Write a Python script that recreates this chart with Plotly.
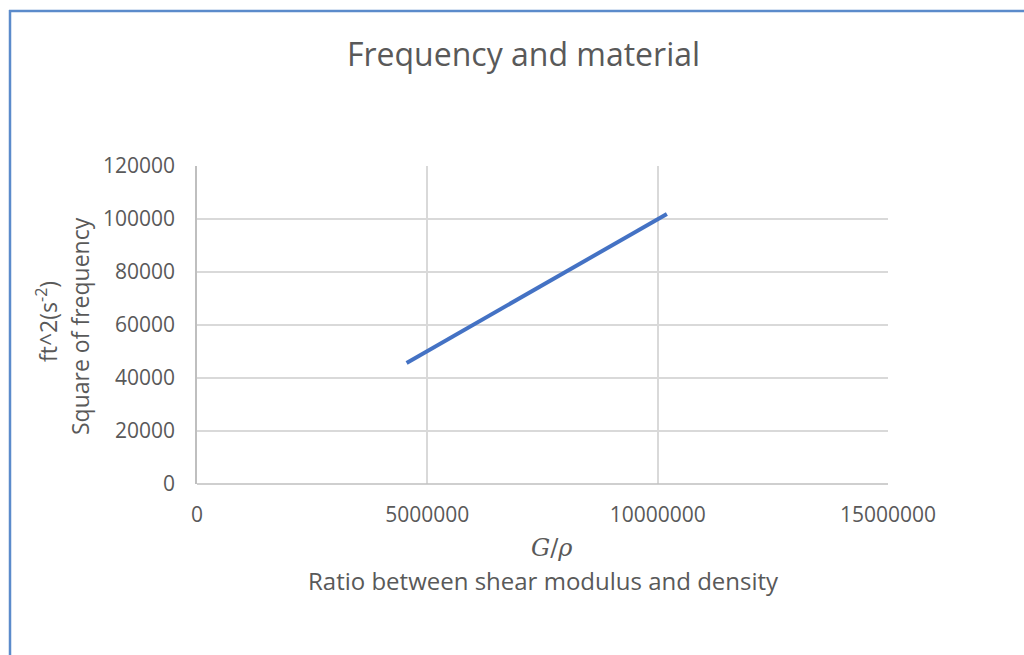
import plotly.graph_objects as go

# Shear modulus / density ratio and squared natural frequency
g_over_rho = [4550000, 10200000]
freq_sq = [45700, 101900]

x_ticks = [0, 5000000, 10000000, 15000000]
y_ticks = [0, 20000, 40000, 60000, 80000, 100000, 120000]

FONT = "Open Sans"
TXT = "#595959"
GRID = "#d9d9d9"
FRAME = "#5b8bcb"

fig = go.Figure()
fig.add_trace(go.Scatter(
    x=g_over_rho, y=freq_sq, mode="lines",
    line=dict(color="#4472C4", width=4),
    showlegend=False,
))

# plot area in pixels: left 197, right 888, top 166, bottom 484
L, R, T, B = 197, 888, 166, 484
W, H = 1024, 655
pw, ph = R - L, B - T

def px(x):
    return (x - L) / pw

def py(y):
    return (B - y) / ph

def label(text, x, y, size, family=FONT, angle=0):
    return dict(text=text, xref="paper", yref="paper", x=px(x), y=py(y),
                xanchor="center", yanchor="middle", showarrow=False,
                textangle=angle, font=dict(size=size, color=TXT, family=family))

fig.update_layout(
    width=W, height=H,
    margin=dict(l=L, r=W - R, t=T, b=H - B),
    paper_bgcolor="white", plot_bgcolor="white",
    font=dict(family=FONT, color=TXT, size=21),
    title=dict(text="Frequency and material", x=px(523.5), xref="paper",
               xanchor="center", y=1 - 55 / H, yanchor="middle",
               font=dict(size=32, color=TXT, family=FONT)),
    xaxis=dict(range=[0, 15000000], tickvals=x_ticks,
               ticktext=[str(v) for v in x_ticks],
               showgrid=True, gridcolor=GRID, gridwidth=1.5,
               zeroline=False, showline=False, ticks="",
               tickfont=dict(size=21, color=TXT), ticklabelstandoff=16),
    yaxis=dict(range=[0, 120000], tickvals=y_ticks,
               ticktext=[str(v) for v in y_ticks],
               showgrid=True, gridcolor=GRID, gridwidth=1.5,
               zeroline=False, showline=True, linecolor="#bfbfbf", linewidth=1.5,
               ticks="", tickfont=dict(size=21, color=TXT), ticklabelstandoff=16),
    shapes=[
        # horizontal axis line
        dict(type="line", xref="paper", yref="paper", x0=0, x1=1, y0=0, y1=0,
             line=dict(color="#bfbfbf", width=1.5)),
        # chart frame: left and top edges
        dict(type="line", xref="paper", yref="paper",
             x0=px(10), x1=px(10), y0=py(660), y1=py(10),
             line=dict(color=FRAME, width=2.5), layer="above"),
        dict(type="line", xref="paper", yref="paper",
             x0=px(9), x1=px(1030), y0=py(11), y1=py(11),
             line=dict(color=FRAME, width=2.5), layer="above"),
    ],
    annotations=[
        label("<i>G</i>/<i>ρ</i>", 551, 548, 24, family="DejaVu Serif"),
        label("Ratio between shear modulus and density", 543, 580, 24),
        label("ft^2(s<sup>-2</sup>)", 47, 322, 23, angle=-90),
        label("Square of frequency", 80, 326, 23, angle=-90),
    ],
)

fig.write_html("out.html")
